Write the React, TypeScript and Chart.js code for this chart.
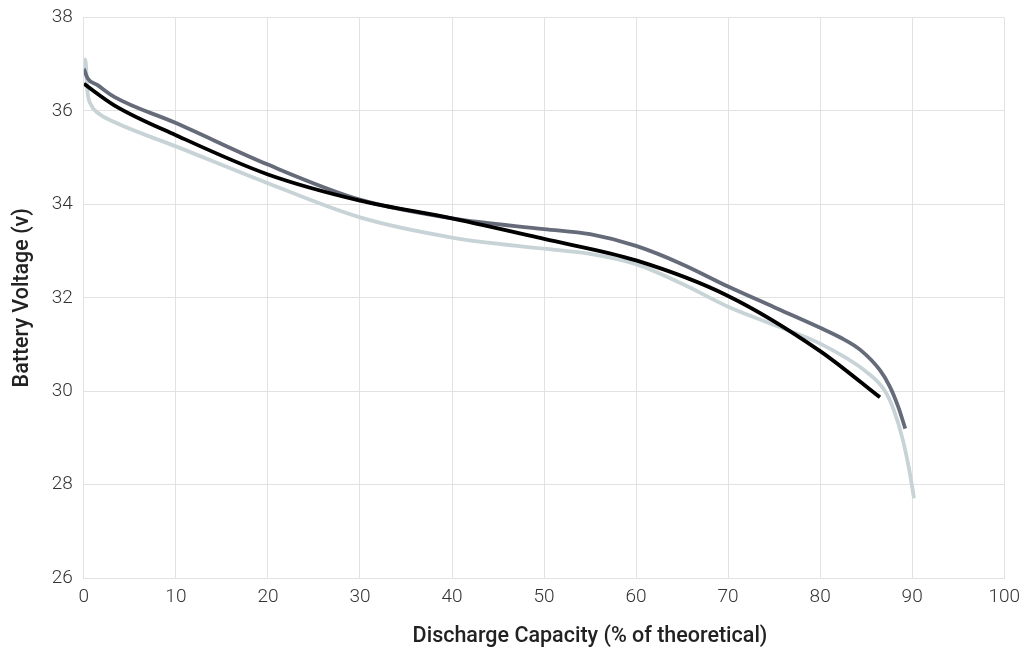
import React, { useEffect, useRef } from "react";
import { Chart, registerables } from "chart.js";

Chart.register(...registerables);

const xTicks = [0, 10, 20, 30, 40, 50, 60, 70, 80, 90, 100];
const yTicks = [26, 28, 30, 32, 34, 36, 38];
const xTitle = "Discharge Capacity (% of theoretical)";
const yTitle = "Battery Voltage (v)";

const darkX = [0, 0.4, 1.5, 3.3, 10, 20, 30, 40, 50, 55, 60, 65, 70, 75, 80, 82.2, 84.4, 86.5, 87.6, 88.5, 89.25];
const darkY = [36.9, 36.7, 36.55, 36.3, 35.74, 34.85, 34.1, 33.7, 33.47, 33.36, 33.11, 32.72, 32.24, 31.8, 31.36, 31.15, 30.88, 30.45, 30.09, 29.66, 29.2];

const blackX = [0, 3.3, 10, 20, 30, 40, 50, 60, 70, 80, 86.5];
const blackY = [36.58, 36.12, 35.48, 34.64, 34.08, 33.7, 33.26, 32.8, 32.04, 30.86, 29.87];

const lightX = [0, 0.15, 0.4, 0.8, 1.5, 3.3, 10, 20, 30, 40, 50, 55, 60, 65, 70, 75, 80, 85, 87, 88, 89, 89.7, 90.2];
const lightY = [36.9, 37.1, 36.4, 36.12, 35.96, 35.76, 35.24, 34.45, 33.72, 33.29, 33.05, 32.94, 32.72, 32.3, 31.81, 31.42, 31.02, 30.42, 30.02, 29.6, 28.95, 28.3, 27.71];

const toPts = (xs: number[], ys: number[]) => xs.map((x, i) => ({ x, y: ys[i] }));

const xTitlePlugin = {
  id: "xTitleOffset",
  afterDraw(chart: any) {
    const ctx = chart.ctx;
    ctx.save();
    ctx.font = "500 21.5px Roboto";
    ctx.fillStyle = "#222222";
    ctx.textAlign = "center";
    ctx.textBaseline = "middle";
    ctx.fillText(xTitle, 590, chart.height - 16);
    ctx.restore();
  },
};

export default function App() {
  const ref = useRef<HTMLCanvasElement | null>(null);
  useEffect(() => {
    if (!ref.current) return;
    const lineDs = (data: any, color: string, order: number) => ({
      data,
      borderColor: color,
      backgroundColor: color,
      borderWidth: 3.8,
      pointRadius: 0,
      cubicInterpolationMode: "monotone" as const,
      fill: false,
      order,
      borderCapStyle: "butt" as const,
    });
    const chart = new Chart(ref.current, {
      type: "line",
      data: {
        datasets: [
          lineDs(toPts(blackX, blackY), "#000000", 1),
          lineDs(toPts(darkX, darkY), "#666b7a", 2),
          lineDs(toPts(lightX, lightY), "#c7d3d6", 3),
        ],
      },
      plugins: [xTitlePlugin],
      options: {
        animation: false,
        responsive: true,
        maintainAspectRatio: false,
        layout: { padding: { top: 0, right: 0, bottom: 36, left: 10 } },
        plugins: { legend: { display: false }, tooltip: { enabled: false } },
        scales: {
          x: {
            type: "linear",
            min: 0,
            max: 100,
            afterBuildTicks: (axis: any) => {
              axis.ticks = xTicks.map((v) => ({ value: v }));
            },
            grid: { color: "#e2e2e2", lineWidth: 1, drawTicks: false },
            border: { color: "#e2e2e2" },
            ticks: {
              padding: 8,
              color: "#333333",
              font: { family: "Roboto", size: 19, weight: 300 },
              maxRotation: 0,
            },
            title: { display: false },
          },
          y: {
            type: "linear",
            min: 26,
            max: 38,
            afterBuildTicks: (axis: any) => {
              axis.ticks = yTicks.map((v) => ({ value: v }));
            },
            grid: { color: "#e2e2e2", lineWidth: 1, drawTicks: false },
            border: { color: "#e2e2e2" },
            ticks: {
              padding: 11,
              color: "#333333",
              font: { family: "Roboto", size: 19, weight: 300 },
            },
            title: {
              display: true,
              text: yTitle,
              color: "#222222",
              font: { family: "Roboto", size: 21.5, weight: 500 },
              padding: { top: 0, bottom: 5 },
            },
          },
        },
      },
    });
    return () => chart.destroy();
  }, []);
  return (
    <div style={{ position: "fixed", left: 0, top: -5, width: 1028, height: 658, background: "#fff" }}>
      <canvas ref={ref} />
    </div>
  );
}
